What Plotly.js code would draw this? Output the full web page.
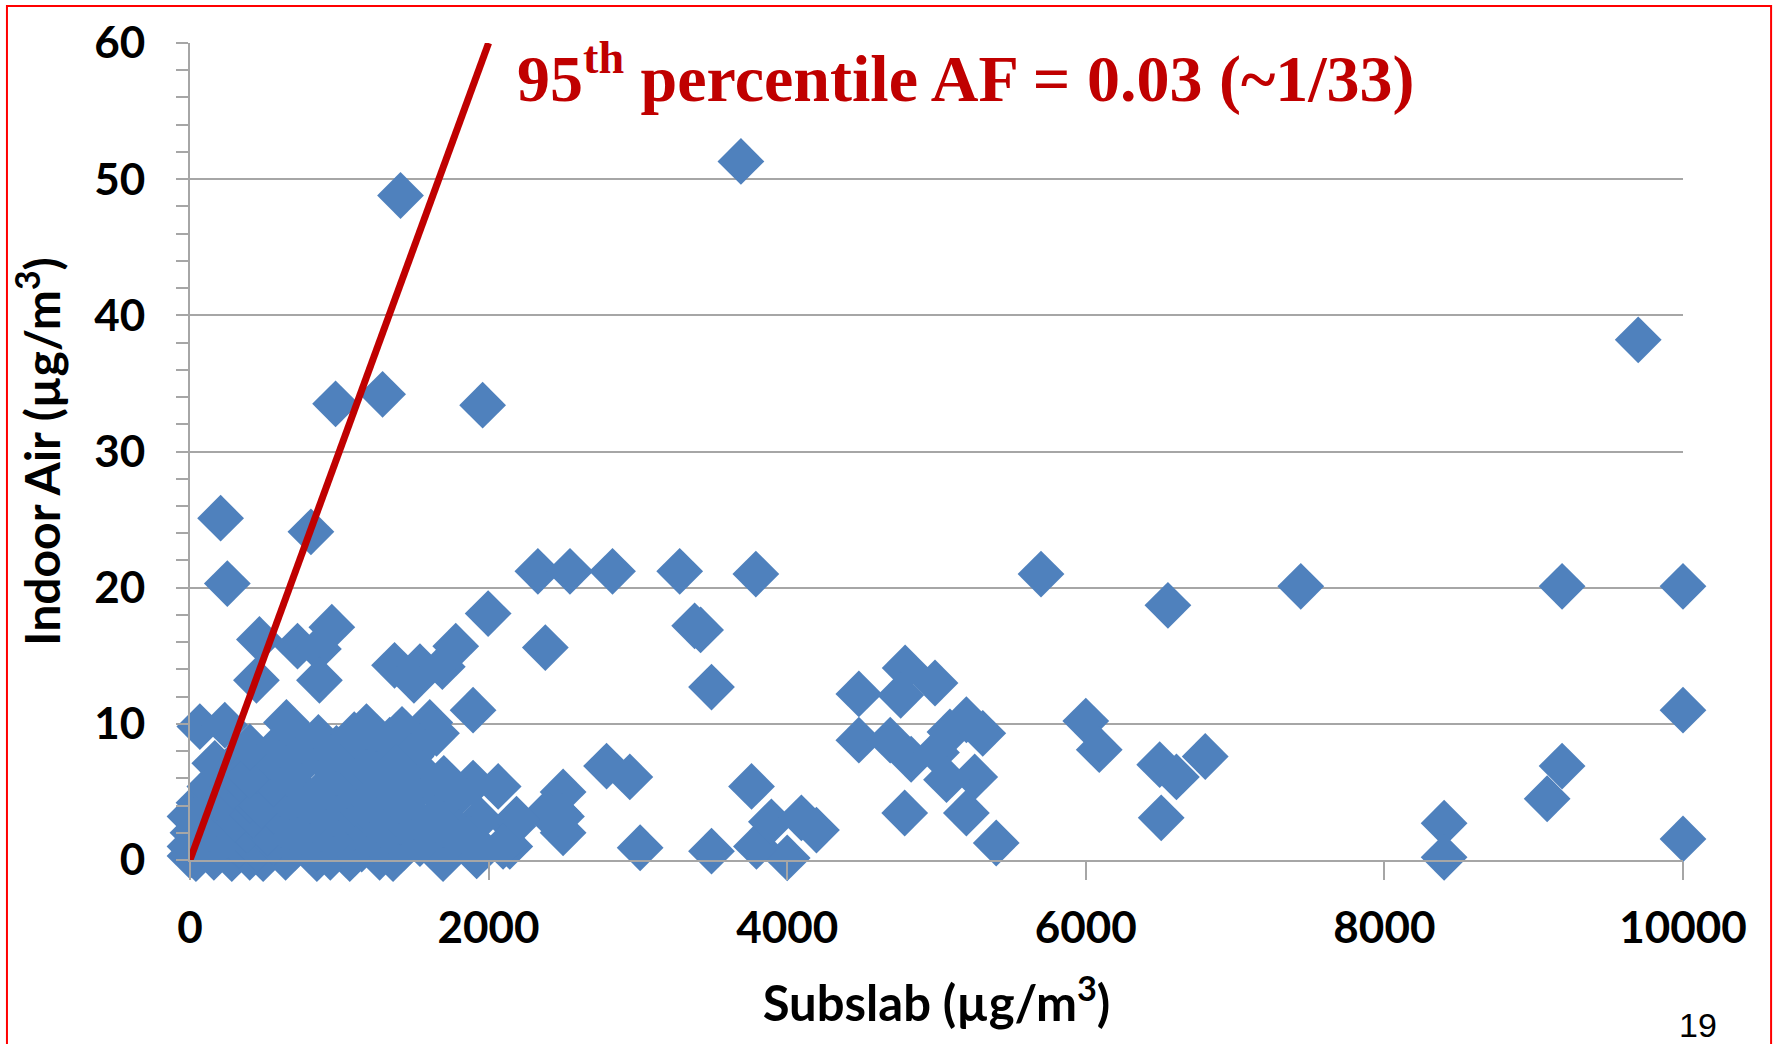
<!DOCTYPE html>
<html>
<head>
<meta charset="utf-8">
<script src="https://cdn.plot.ly/plotly-3.0.1.min.js"></script>
<style>
  html, body { margin: 0; padding: 0; background: #ffffff; }
  #chart { width: 1775px; height: 1044px; }
</style>
</head>
<body>
<div id="chart"></div>
<script>
// Subslab concentration (µg/m3) and paired indoor air concentration (µg/m3)
const subslab = [
  1410, 3690, 9700, 975, 1290, 1960,
  205, 810, 250,
  2330, 2545, 2830, 3280, 3790, 5700, 7440, 9190, 10000,
  6550, 1997, 3380, 3420, 2380,
  950, 465, 720, 860, 445, 867,
  1370, 1540, 1500, 1690, 1780,
  1896, 3493,
  4480, 4790, 4760, 4990,
  6000, 6090, 10000,
  5200, 5090, 5310, 4480, 4690, 4830, 5000,
  6495, 6607, 6800, 9190, 9090, 10000, 8400, 8400,
  6505, 5400, 5200, 5256, 5067, 4787,
  3761, 4000, 3794, 3894, 4095, 4196, 3493, 3015,
  2790, 2946, 2499, 2488, 2499, 2388, 2164, 2142, 2064, 2187, 2097, 2465,
  1606, 1651, 1539, 1896, 1941, 1885, 1695, 1606, 1472, 1628, 1785,
  1230, 1338, 1420, 1480, 1560, 1700,
  0, 40, 160, 280, 400, 490, 640, 850, 940, 1070, 1270, 1360, 1920,
  0, 90, 200, 330, 450, 560, 700, 790, 900, 1010, 1150, 1230, 1300, 1430, 1540, 1760, 1850,
  20, 130, 250, 380, 520, 610, 750, 880, 990, 1100, 1200, 1330, 1410, 1700, 1800,
  0, 177, 300, 420, 560, 669, 820, 960, 1060, 1182, 1250, 1380, 1500, 1640,
  60, 180, 401, 480, 602, 720, 802, 1000, 1100, 1200, 1293, 1400,
  133, 289, 914, 560, 1050,
  166, 250, 330, 400, 535, 650, 780, 981, 1115, 1250, 1380,
  401, 600, 750, 860, 981, 1100,
  66, 233, 646, 1182
];
const indoorAir = [
  48.8, 51.3, 38.2, 33.5, 34.2, 33.4,
  25.1, 24.1, 20.3,
  21.2, 21.2, 21.2, 21.2, 21.0, 21.0, 20.1, 20.1, 20.1,
  18.7, 18.1, 17.2, 16.9, 15.6,
  17.1, 16.2, 15.7, 15.5, 13.2, 13.2,
  14.3, 14.2, 13.2, 14.2, 15.7,
  11.0, 12.7,
  12.2, 14.1, 12.1, 13.0,
  10.2, 8.1, 11.0,
  10.3, 9.4, 9.3, 8.8, 8.8, 7.4, 7.9,
  7.0, 6.1, 7.6, 6.9, 4.5, 1.55, 2.7, 0.2,
  3.1, 1.25, 3.45, 6.1, 5.9, 3.45,
  5.4, 0.15, 1.0, 2.8, 3.1, 2.2, 0.65, 0.9,
  6.9, 6.1, 5.0, 3.2, 2.0, 3.45, 2.5, 1.0, 5.4, 3.0, 1.0, 3.45,
  10.1, 9.3, 8.3, 5.65, 3.0, 1.5, 0.1, 2.2, 4.7, 5.2, 4.7,
  8.0, 8.8, 9.6, 7.6, 6.3, 6.0,
  0.3, 0.1, 0.2, 0.1, 0.2, 0.1, 0.2, 0.1, 0.2, 0.1, 0.2, 0.1, 0.3,
  1.0, 1.2, 0.9, 1.1, 0.8, 1.3, 0.9, 1.2, 0.7, 1.1, 0.8, 1.4, 1.5, 0.9, 1.2, 1.1, 1.5,
  2.0, 2.3, 1.8, 2.2, 2.0, 2.6, 2.1, 2.3, 2.0, 2.4, 2.0, 2.2, 2.8, 2.6, 2.0,
  3.2, 3.45, 3.0, 3.3, 3.6, 2.5, 3.0, 3.4, 3.6, 3.45, 3.0, 3.4, 3.2, 3.0,
  4.2, 4.6, 4.4, 4.0, 4.9, 4.8, 4.4, 4.6, 4.2, 4.5, 5.4, 4.4,
  5.4, 5.4, 5.4, 5.6, 5.5,
  7.1, 6.6, 6.0, 6.2, 7.6, 6.4, 7.4, 6.4, 6.9, 6.3, 6.8,
  8.3, 8.5, 8.8, 9.0, 8.2, 9.2,
  9.8, 9.9, 10.1, 9.8
];
// Attenuation factor line: indoor = 0.03 x subslab
const afLineX = [0, 2000];
const afLineY = [0, 60];

const xTickVals = [0, 2000, 4000, 6000, 8000, 10000];
const yTickVals = [0, 10, 20, 30, 40, 50, 60];

const axisGrey = '#A6A6A6';
const tickFont = {family: 'Lato, "DejaVu Sans", sans-serif', size: 44, weight: 700, color: '#000000'};
const xTitleFont = {family: 'Lato, "DejaVu Sans", sans-serif', size: 49, weight: 700, color: '#000000'};
const yTitleFont = {family: 'Lato, "DejaVu Sans", sans-serif', size: 48, weight: 700, color: '#000000'};

const traces = [
  {
    type: 'scatter', mode: 'markers',
    x: subslab, y: indoorAir,
    marker: {symbol: 'diamond', size: 36, color: '#4F81BD', line: {width: 0}},
    cliponaxis: false, hoverinfo: 'x+y', showlegend: false
  },
  {
    type: 'scatter', mode: 'lines',
    x: afLineX, y: afLineY,
    line: {color: '#C00000', width: 7},
    hoverinfo: 'skip', showlegend: false
  }
];

const layout = {
  width: 1775, height: 1044,
  paper_bgcolor: '#ffffff', plot_bgcolor: '#ffffff',
  margin: {l: 190, r: 92, t: 43, b: 184, pad: 0},
  showlegend: false,
  xaxis: {
    range: [0, 10000], tickvals: xTickVals, ticktext: xTickVals.map(String),
    showgrid: false, zeroline: false,
    showline: true, linecolor: axisGrey, linewidth: 2,
    ticks: 'outside', ticklen: 18, tickwidth: 2, tickcolor: axisGrey,
    tickfont: tickFont, ticklabelstandoff: 10,
    title: {text: 'Subslab (µg/m<sup>3</sup>)', font: xTitleFont, standoff: 36}
  },
  yaxis: {
    range: [0, 60], tickvals: yTickVals, ticktext: yTickVals.map(String),
    showgrid: true, gridcolor: axisGrey, gridwidth: 2, zeroline: false,
    showline: true, linecolor: axisGrey, linewidth: 2,
    ticks: 'outside', ticklen: 12, tickwidth: 2, tickcolor: axisGrey,
    minor: {dtick: 2, ticks: 'outside', ticklen: 12, tickwidth: 2, tickcolor: axisGrey, showgrid: false},
    tickfont: tickFont, ticklabelstandoff: 22,
    title: {text: 'Indoor Air (µg/m<sup>3</sup>)', font: yTitleFont, standoff: 18}
  },
  annotations: [
    {
      xref: 'paper', yref: 'paper', x: 0.218, y: 0.962, xanchor: 'left', yanchor: 'middle',
      text: '95<sup>th</sup> percentile AF = 0.03 (~1/33)', showarrow: false,
      font: {family: '"Liberation Serif", "Times New Roman", serif', size: 66, weight: 700, color: '#C00000'}
    },
    {
      xref: 'paper', yref: 'paper', x: 1.010, y: -0.202, xanchor: 'center', yanchor: 'middle',
      text: '19', showarrow: false,
      font: {family: '"Liberation Sans", Arial, sans-serif', size: 34, color: '#000000'}
    }
  ],
  shapes: [
    {
      type: 'rect', xref: 'paper', yref: 'paper',
      x0: -0.1226, x1: 1.0590, y0: -0.26, y1: 1.0453,
      line: {color: '#FF0000', width: 2}, fillcolor: 'rgba(0,0,0,0)', layer: 'below'
    }
  ]
};

Plotly.newPlot('chart', traces, layout, {displayModeBar: false, staticPlot: true});
</script>
</body>
</html>
